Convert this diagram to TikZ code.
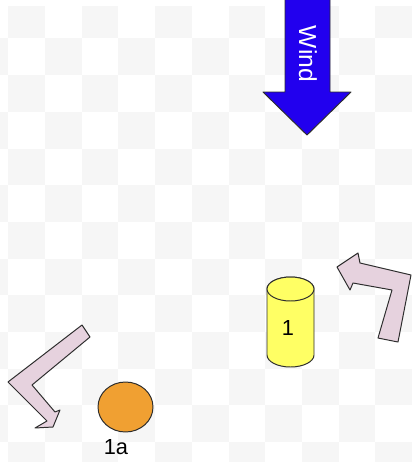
\documentclass[tikz,border=0pt]{standalone}
\usepackage{fontspec}
\setmainfont{Liberation Sans}
\definecolor{checker}{RGB}{246,246,246}
\definecolor{windblue}{RGB}{34,0,238}
\definecolor{bentpink}{RGB}{230,210,222}
\definecolor{drumyellow}{RGB}{255,255,100}
\definecolor{ballorange}{RGB}{240,160,50}
\definecolor{edge}{RGB}{45,45,45}

\begin{document}
\begin{tikzpicture}[x=0.025cm, y=-0.025cm, every node/.style={font=\fontsize{15.5}{17}\selectfont, inner sep=0pt},
	shp/.style={draw=edge, line width=0.7pt, line join=round},
	bent/.style={shp, fill=bentpink}]
	\useasboundingbox (0,0) rectangle (412,462);
	% checkerboard background
	\begin{scope}
		\clip (0,6) rectangle (412,462);
		\foreach \i in {0,...,11} {
			\foreach \j in {0,...,12} {
				\pgfmathparse{int(mod(\i+\j,2))}
				\ifnum\pgfmathresult=1
					\fill[checker] (-28.4+36.7*\i,1.7+36.7*\j) rectangle ++(36.7,36.7);
				\fi
			}
		}
	\end{scope}
	% wind arrow
	\draw[shp, fill=windblue] (285,-2) -- (330,-2) -- (330,92) -- (351,92) -- (307,135) -- (263,92) -- (285,92) -- cycle;
	\node[rotate=-90, text=white, font=\fontsize{17.5}{19}\selectfont] (wind) at (308,54) {Wind};
	% bent arrows
	\draw[bent] (337,267) -- (358,253) -- (360,263) -- (411,275) -- (398,342) -- (378,338) -- (392,290) -- (353,283) -- (350,290) -- cycle;
	\draw[bent] (82,325) -- (90,337) -- (32,385) -- (55,412) -- (60,410) -- (53,427) -- (35,428) -- (47,421) -- (8,382) -- cycle;
	% drum
	\draw[shp, fill=drumyellow] (267,289) -- (267,355) arc[start angle=180, end angle=0, x radius=23.5, y radius=12] -- (314,289) arc[start angle=0, end angle=-180, x radius=23.5, y radius=12] -- cycle;
	\draw[shp, fill=drumyellow] (290.5,289) ellipse[x radius=23.5, y radius=12];
	\node (drum) at (288,328) {1};
	% ball
	\draw[shp, fill=ballorange] (125.5,407) ellipse[x radius=27.5, y radius=25];
	\node (ball) at (116,447) {1a};
\end{tikzpicture}
\end{document}
